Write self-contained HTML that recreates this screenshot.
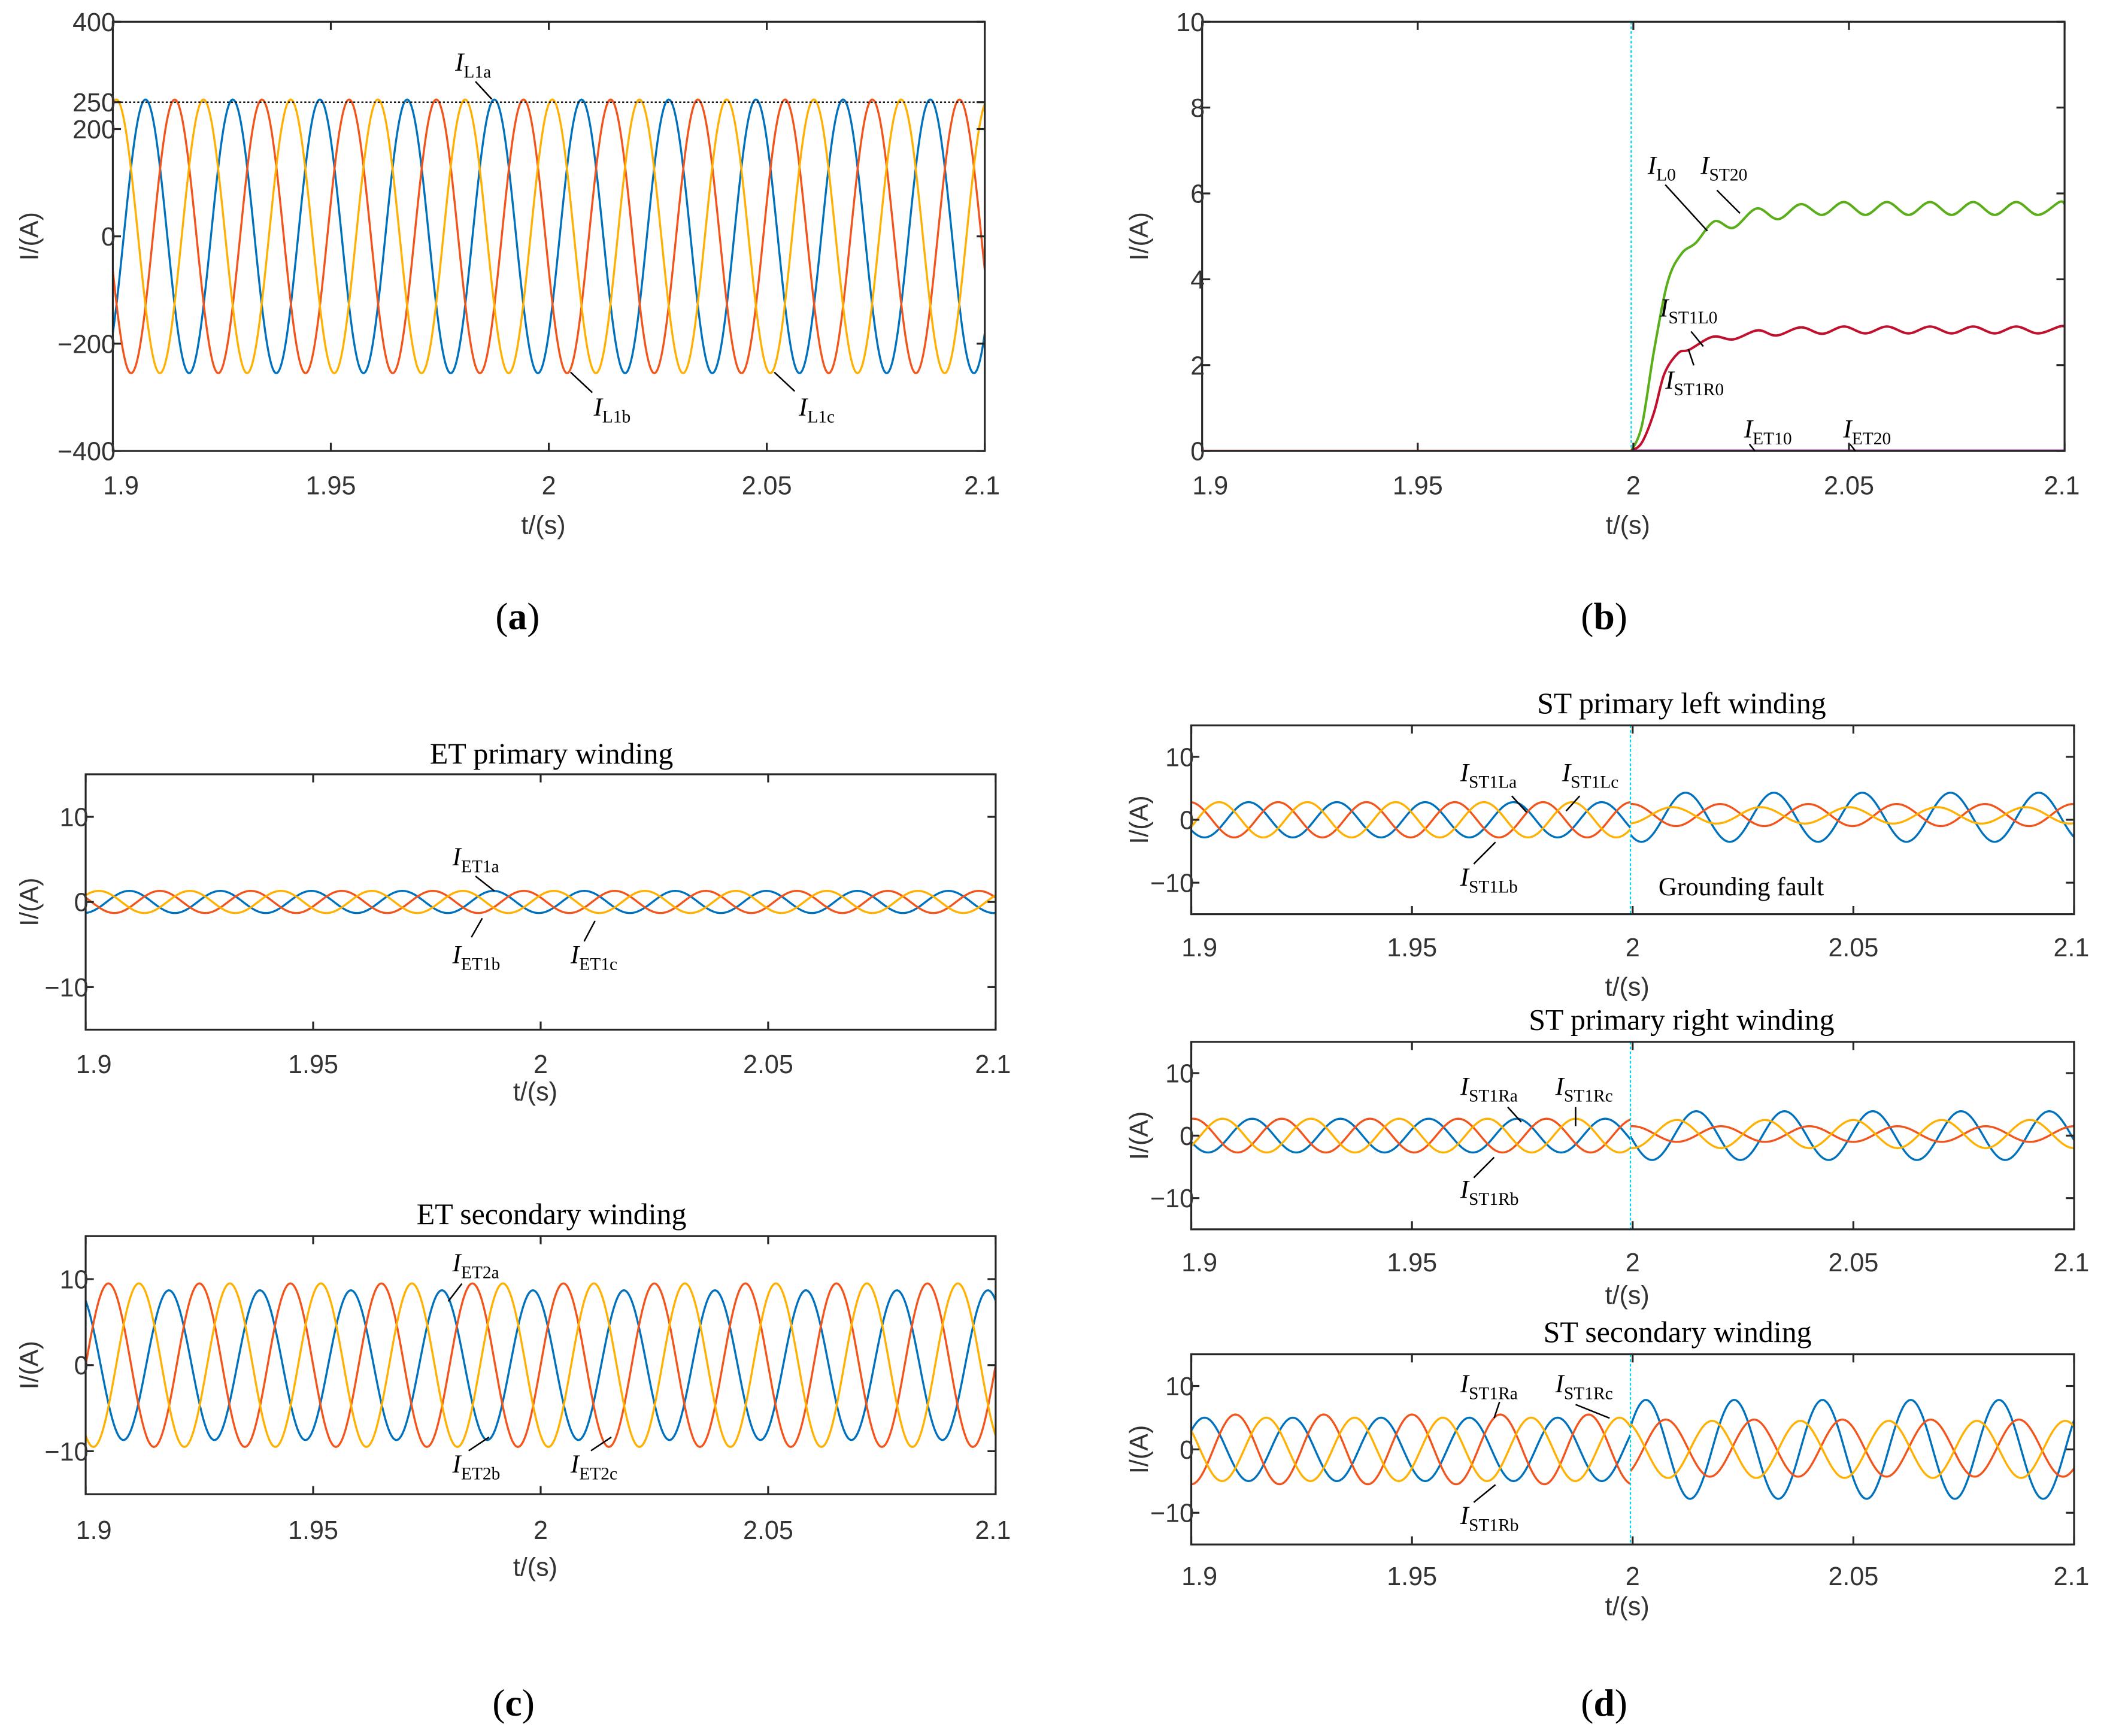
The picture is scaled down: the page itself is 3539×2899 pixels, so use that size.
<!DOCTYPE html>
<html><head><meta charset="utf-8"><style>
html,body{margin:0;padding:0;background:#fff}
svg{display:block}
text{font-family:"Liberation Sans",sans-serif}
.ser{font-family:"Liberation Serif",serif}
</style></head><body>
<svg id="fig" xmlns="http://www.w3.org/2000/svg" width="3539" height="2899" viewBox="0 0 1560 1278"></svg>
<script>
// ---------- DATA ----------
const xTicks = [1.9, 1.95, 2, 2.05, 2.1];
const xTickLabels = ["1.9", "1.95", "2", "2.05", "2.1"];
// (a) three-phase line currents: amplitude, time of first peak (s), frequency 50 Hz
const aAmps = [255, 255, 255];
const aPeaks = [1.9075, 1.9142, 1.9008];
const aTicks = [400, 250, 200, 0, -200, -400];
// (b) zero-sequence currents
const gT = [1.9, 1.9995, 2.002, 2.0048, 2.008, 2.0112, 2.0145, 2.0188, 2.0232, 2.0286, 2.0336, 2.0388, 2.0438, 2.0488, 2.0538, 2.0588, 2.0638, 2.0688, 2.0738, 2.0788, 2.0838, 2.0888, 2.0938, 2.0988, 2.1];
const gV = [0, 0, 0.6, 2.34, 3.95, 4.6, 4.85, 5.35, 5.2, 5.65, 5.4, 5.75, 5.5, 5.8, 5.5, 5.8, 5.5, 5.8, 5.5, 5.8, 5.5, 5.8, 5.5, 5.8, 5.75];
const rT = [1.9, 1.9995, 2.002, 2.0048, 2.0072, 2.0104, 2.013, 2.0184, 2.0232, 2.0288, 2.0332, 2.0388, 2.0438, 2.0488, 2.0538, 2.0588, 2.0638, 2.0688, 2.0738, 2.0788, 2.0838, 2.0888, 2.0938, 2.0988, 2.1];
const rV = [0, 0, 0.2, 0.9, 1.8, 2.28, 2.36, 2.66, 2.6, 2.81, 2.69, 2.88, 2.73, 2.9, 2.74, 2.9, 2.74, 2.9, 2.74, 2.9, 2.74, 2.9, 2.74, 2.9, 2.9];
const pV = [0, 0];
const bTicks = [0, 2, 4, 6, 8, 10];
// (c) ET windings
const et1Amps = [1.3, 1.3, 1.3];
const et1Peaks = [1.9096, 1.9163, 1.9029];
const et2Amps = [8.7, 9.5, 9.5];
const et2Peaks = [1.8983, 1.9050, 1.9117];
const smallTicks = [10, 0, -10];
// (d) ST windings
const stLPreAmps = [2.8, 2.8, 2.8];
const stLPrePeaks = [1.9130, 1.9197, 1.9063];
const stLPostAmps = [3.9, 1.75, 1.3];
const stLPostPeaks = [2.012, 2.0198, 2.009];
const stLPostOffs = [0.4, 0.75, 0.7];
const stRPreAmps = [2.7, 2.7, 2.7];
const stRPrePeaks = [1.9138, 1.9205, 1.9071];
const stRPostAmps = [3.9, 1.25, 2.25];
const stRPostPeaks = [2.0144, 2.020, 2.010];
const stRPostOffs = [0, 0.25, 0.25];
const stSPreAmps = [5.0, 5.5, 5.0];
const stSPrePeaks = [1.9030, 1.9100, 1.9170];
const stSPostAmps = [7.8, 4.5, 4.5];
const stSPostPeaks = [2.023, 2.0275, 2.018];
const stSPostOffs = [0, 0.2, 0];
const faultT = 1.9995;

const COLORS = ["#0072BD", "#F2541B", "#FFB000"];
const NS = "http://www.w3.org/2000/svg";
const svg = document.getElementById("fig");
let clipCount = 0;
function el(tag, attrs, parent) {
  const e = document.createElementNS(NS, tag);
  for (const k in attrs) e.setAttribute(k, attrs[k]);
  (parent || svg).appendChild(e);
  return e;
}
function axes(name, x0, x1, y0, y1, ymin, ymax) {
  const g = el("g", {});
  
  
  return {g, x0, x1, y0, y1,
    sx: t => x0 + (t - 1.9) / 0.2 * (x1 - x0),
    sy: v => y1 - (v - ymin) / (ymax - ymin) * (y1 - y0)};
}
function frame(ax, yTicks, yTickLbls, tickY, xlabelY, ylabelX, fs) {
  const g = ax.g;
  const cid = "clip" + (clipCount++);
  const clip = el("clipPath", {id: cid}, g);
  el("rect", {x: ax.x0, y: ax.y0, width: ax.x1 - ax.x0, height: ax.y1 - ax.y0}, clip);
  ax.plot = el("g", {"clip-path": "url(#" + cid + ")"}, g);
  ax.after = () => {
    el("rect", {x: ax.x0, y: ax.y0, width: ax.x1 - ax.x0, height: ax.y1 - ax.y0, fill: "none", stroke: "#262626", "stroke-width": 1.4}, g);
    xTicks.forEach((t, i) => {
      const x = ax.sx(t);
      el("line", {x1: x, x2: x, y1: ax.y1, y2: ax.y1 - 6, stroke: "#262626", "stroke-width": 1.4}, g);
      el("line", {x1: x, x2: x, y1: ax.y0, y2: ax.y0 + 6, stroke: "#262626", "stroke-width": 1.4}, g);
      const tx = el("text", {x: x + (i === 0 ? 6 : i === 4 ? -2 : 0), y: tickY, "font-size": fs, "text-anchor": "middle", fill: "#333"}, g);
      tx.textContent = xTickLabels[i];
      
      
    });
    yTicks.forEach((v, i) => {
      const y = ax.sy(v);
      el("line", {x1: ax.x0, x2: ax.x0 + 6, y1: y, y2: y, stroke: "#262626", "stroke-width": 1.4}, g);
      el("line", {x1: ax.x1, x2: ax.x1 - 6, y1: y, y2: y, stroke: "#262626", "stroke-width": 1.4}, g);
      const tx = el("text", {x: ax.x0 + 2, y: y + fs * 0.36, "font-size": fs, "text-anchor": "end", fill: "#333"}, g);
      tx.textContent = yTickLbls[i];
      
      
    });
    const xl = el("text", {x: (ax.x0 + ax.x1) / 2 - 4, y: xlabelY, "font-size": fs, "text-anchor": "middle", fill: "#333"}, g);
    xl.textContent = "t/(s)";
    
    
    const cy = (ax.y0 + ax.y1) / 2;
    const yl = el("text", {x: ylabelX, y: cy, "font-size": fs, "text-anchor": "middle", fill: "#333", transform: "rotate(-90 " + ylabelX + " " + cy + ")"}, g);
    yl.textContent = "I/(A)";
    
    
  };
}
function sinePath(ax, amps, peaks, i, t0, t1, offs) {
  let d = "";
  const n = Math.ceil((t1 - t0) / 0.0002);
  for (let k = 0; k <= n; k++) {
    const t = t0 + (t1 - t0) * k / n;
    const v = (offs ? offs[i] : 0) + amps[i] * Math.cos(2 * Math.PI * 50 * (t - peaks[i]));
    d += (k ? "L" : "M") + ax.sx(t).toFixed(2) + " " + ax.sy(v).toFixed(2);
  }
  return d;
}
function drawThree(ax, name, amps, peaks, t0, t1, offs) {
  [0, 1, 2].forEach(i => {
    const p = el("path", {d: sinePath(ax, amps, peaks, i, t0, t1, offs), fill: "none", stroke: COLORS[i], "stroke-width": 1.5}, ax.plot);
    
    
  });
}
// straight segment for the first interval, Catmull-Rom smoothing for the rest
function smoothPath(ax, ts, vs) {
  const P = ts.map((t, i) => [ax.sx(t), ax.sy(vs[i])]);
  let d = "M" + P[0][0].toFixed(2) + " " + P[0][1].toFixed(2) + "L" + P[1][0].toFixed(2) + " " + P[1][1].toFixed(2);
  for (let i = 1; i < P.length - 1; i++) {
    const p0 = P[Math.max(1, i - 1)], p1 = P[i], p2 = P[i + 1], p3 = P[Math.min(P.length - 1, i + 2)];
    const c1 = [p1[0] + (p2[0] - p0[0]) / 6, p1[1] + (p2[1] - p0[1]) / 6];
    const c2 = [p2[0] - (p3[0] - p1[0]) / 6, p2[1] - (p3[1] - p1[1]) / 6];
    d += "C" + c1[0].toFixed(2) + " " + c1[1].toFixed(2) + " " + c2[0].toFixed(2) + " " + c2[1].toFixed(2) + " " + p2[0].toFixed(2) + " " + p2[1].toFixed(2);
  }
  return d;
}
function label(x, y, sub, name, lx1, ly1, lx2, ly2) {
  const t = el("text", {x: x, y: y, "font-size": 19, fill: "#000", class: "ser"});
  
  
  const a = el("tspan", {"font-style": "italic"}, t); a.textContent = "I";
  const b = el("tspan", {"font-size": 13, dy: 5}, t); b.textContent = sub;
  if (lx1 !== undefined) el("line", {x1: lx1, y1: ly1, x2: lx2, y2: ly2, stroke: "#000", "stroke-width": 1.1});
}
function caption(x, y, s, name) {
  const t = el("text", {x: x, y: y, "font-size": 28, "text-anchor": "middle", class: "ser", fill: "#000"});
  t.innerHTML = '(<tspan font-weight="bold">' + s + '</tspan>)';
  
  
}
function title(x, y, s, name) {
  const t = el("text", {x: x, y: y, "font-size": 22, "text-anchor": "middle", class: "ser", fill: "#000"});
  t.textContent = s;
  
  
}
function faultLine(ax) {
  const x = ax.sx(faultT);
  const l = el("line", {x1: x, x2: x, y1: ax.y0, y2: ax.y1, stroke: "#00D8F0", "stroke-width": 1, "stroke-dasharray": "2 1.5"}, ax.plot);
  
  
}

// ---------- (a) ----------
const A = axes("panel-a-line-currents", 83, 725, 16, 332, -400, 400);
frame(A, aTicks, ["400", "250", "200", "0", "\u2212200", "\u2212400"], 364, 393, 28, 19);
drawThree(A, "line-current", aAmps, aPeaks, 1.9, 2.1);
const dl = el("line", {x1: A.x0, x2: A.x1, y1: A.sy(250), y2: A.sy(250), stroke: "#000", "stroke-width": 1, "stroke-dasharray": "1.5 1.5"}, A.plot);


A.after();
label(335, 52, "L1a", "label-il1a", 350, 60, 362, 73);
label(437, 306, "L1b", "label-il1b", 420, 274, 436, 289);
label(588, 306, "L1c", "label-il1c", 570, 274, 585, 288);
caption(381, 463, "a", "caption-a");

// ---------- (b) ----------
const B = axes("panel-b-zero-sequence", 885, 1520, 16, 332, 0, 10);
frame(B, bTicks, bTicks.map(String), 364, 393, 845, 19);
faultLine(B);
const gp = el("path", {d: smoothPath(B, gT, gV), stroke: "#5AAE1A", "stroke-width": 1.8, fill: "none"}, B.plot);


const rp = el("path", {d: smoothPath(B, rT, rV), stroke: "#C0102E", "stroke-width": 1.8, fill: "none"}, B.plot);


const pp = el("path", {d: "M" + B.sx(faultT) + " " + B.sy(pV[0]) + "L" + B.x1 + " " + B.sy(pV[1]), stroke: "#8E2C8E", "stroke-width": 2.2, fill: "none"}, B.plot);


B.after();
label(1213, 128, "L0", "label-il0", 1226, 136, 1257, 170);
label(1252, 128, "ST20", "label-ist20", 1264, 140, 1281, 157);
label(1222, 233, "ST1L0", "label-ist1l0", 1245, 244, 1254, 255);
label(1226, 286, "ST1R0", "label-ist1r0", 1247, 269, 1243, 257);
label(1284, 322, "ET10", "label-iet10", 1288, 327, 1292, 332);
label(1357, 322, "ET20", "label-iet20", 1362, 327, 1366, 332);
caption(1181, 463, "b", "caption-b");

// ---------- (c) ----------
title(406, 562, "ET primary winding", "title-et-primary");
const C1 = axes("panel-c-et-primary", 63, 733, 570, 758, -15, 15);
frame(C1, smallTicks, ["10", "0", "\u221210"], 790, 810, 28, 19);
drawThree(C1, "et1-current", et1Amps, et1Peaks, 1.9, 2.1);
C1.after();
label(333, 637, "ET1a", "label-iet1a", 350, 645, 364, 656);
label(333, 709, "ET1b", "label-iet1b", 347, 690, 355, 676);
label(420, 709, "ET1c", "label-iet1c", 430, 693, 438, 678);

title(406, 901, "ET secondary winding", "title-et-secondary");
const C2 = axes("panel-c-et-secondary", 63, 733, 910, 1100, -15, 15);
frame(C2, smallTicks, ["10", "0", "\u221210"], 1133, 1160, 28, 19);
drawThree(C2, "et2-current", et2Amps, et2Peaks, 1.9, 2.1);
C2.after();
label(333, 936, "ET2a", "label-iet2a", 340, 945, 330, 958);
label(333, 1084, "ET2b", "label-iet2b", 345, 1068, 360, 1058);
label(420, 1084, "ET2c", "label-iet2c", 435, 1068, 450, 1058);
caption(378, 1263, "c", "caption-c");

// ---------- (d) ----------
function stPanel(name, y0, y1, tickY, xlY, pre, post) {
  const ax = axes(name, 877, 1527, y0, y1, -15, 15);
  frame(ax, smallTicks, ["10", "0", "\u221210"], tickY, xlY, 845, 19);
  drawThree(ax, name + "-pre", pre[0], pre[1], 1.9, faultT);
  drawThree(ax, name + "-post", post[0], post[1], faultT, 2.1, post[2]);
  faultLine(ax);
  ax.after();
  return ax;
}
title(1238, 525, "ST primary left winding", "title-st-primary-left");
stPanel("panel-d-st-left", 534, 673, 704, 733, [stLPreAmps, stLPrePeaks], [stLPostAmps, stLPostPeaks, stLPostOffs]);
label(1075, 575, "ST1La", "label-ist1la", 1113, 586, 1124, 598);
label(1150, 575, "ST1Lc", "label-ist1lc", 1163, 586, 1153, 597);
label(1075, 652, "ST1Lb", "label-ist1lb", 1085, 636, 1101, 620);
const gf = el("text", {x: 1221, y: 659, "font-size": 19, class: "ser", fill: "#000"});
gf.textContent = "Grounding fault";



title(1238, 758, "ST primary right winding", "title-st-primary-right");
stPanel("panel-d-st-right", 767, 905, 936, 960, [stRPreAmps, stRPrePeaks], [stRPostAmps, stRPostPeaks, stRPostOffs]);
label(1075, 806, "ST1Ra", "label-ist1ra", 1110, 815, 1120, 826);
label(1145, 806, "ST1Rc", "label-ist1rc", 1160, 815, 1160, 829);
label(1075, 882, "ST1Rb", "label-ist1rb", 1085, 867, 1100, 852);

title(1235, 988, "ST secondary winding", "title-st-secondary");
stPanel("panel-d-st-secondary", 997, 1137, 1167, 1189, [stSPreAmps, stSPrePeaks], [stSPostAmps, stSPostPeaks, stSPostOffs]);
label(1075, 1025, "ST1Ra", "label-ist1ra-sec", 1104, 1032, 1100, 1044);
label(1145, 1025, "ST1Rc", "label-ist1rc-sec", 1160, 1034, 1185, 1044);
label(1075, 1122, "ST1Rb", "label-ist1rb-sec", 1085, 1106, 1101, 1093);
caption(1181, 1263, "d", "caption-d");
</script>
</body></html>
